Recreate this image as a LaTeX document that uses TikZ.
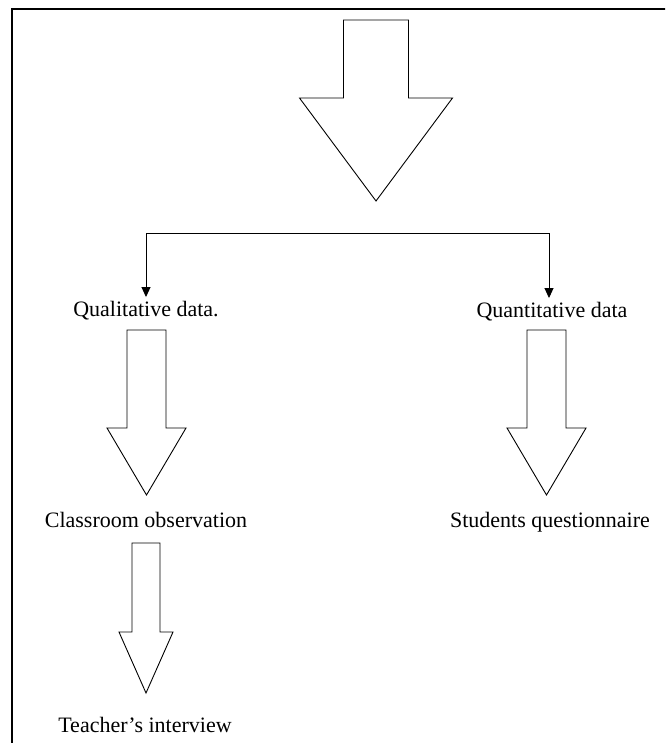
\documentclass[tikz,border=0pt]{standalone}
\usepackage{fontspec}
\setmainfont{Liberation Serif}
\usetikzlibrary{arrows.meta}

% hollow block arrow pointing down: x, top, shoulder, tip, shaft half width, head half width
\newcommand{\blockarrow}[6]{%
  \draw[block] (#1-#5,#2) -- (#1+#5,#2) -- (#1+#5,#3) -- (#1+#6,#3) -- (#1,#4)
    -- (#1-#6,#3) -- (#1-#5,#3) -- cycle;}

\begin{document}
\begin{tikzpicture}[x = 1pt, y = -1pt,
    lbl/.style = {font = \fontsize{22}{26}\selectfont, anchor = base, inner xsep = 0pt, inner ysep = 3.5pt},
    block/.style = {draw, line width = 0.9pt, line join = miter},
    conn/.style = {draw, line width = 0.9pt},
    tip/.style = {-{Triangle[width = 9pt, length = 10pt]}}]
  \useasboundingbox (0,0) rectangle (665,743);
  \begin{scope}
    \clip (0,0) rectangle (665,743);
    \draw[line width = 1.6pt] (12,800) -- (12,9) -- (700,9);
  \end{scope}

  \blockarrow{376}{20}{98}{201}{32.5}{76.5}
  \blockarrow{146.5}{330}{428}{495}{19.5}{39.5}
  \blockarrow{546.5}{330}{428}{495}{19.5}{39.5}
  \blockarrow{146}{543}{632}{693}{14}{27}

  \node[lbl] (qual)  at (146,316) {Qualitative data.};
  \node[lbl] (quant) at (552,317) {Quantitative data};
  \node[lbl] (obs)   at (146,527) {Classroom observation};
  \node[lbl] (quest) at (550,527) {Students questionnaire};
  \node[lbl] (intv)  at (145,732) {Teacher’s interview};

  \coordinate (fork-l) at (146,233);
  \coordinate (fork-r) at (549,233);
  \path[conn] (fork-l) -- (fork-r);
  \path[conn, tip] (fork-l) -- (fork-l |- qual.north);
  \path[conn, tip] (fork-r) -- (fork-r |- quant.north);
\end{tikzpicture}
\end{document}
